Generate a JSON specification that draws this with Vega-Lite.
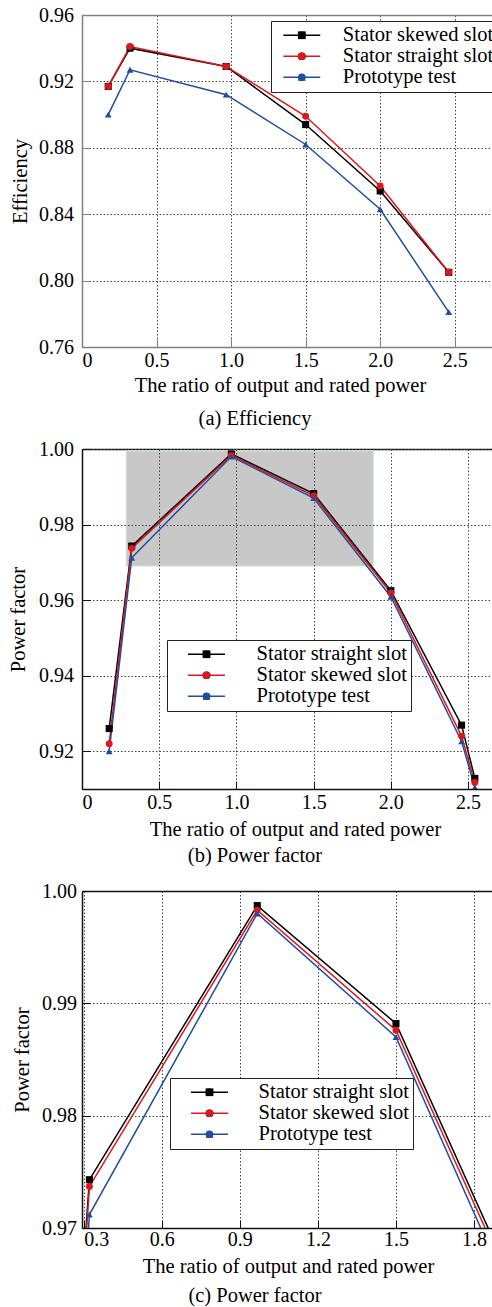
{
  "$schema": "https://vega.github.io/schema/vega-lite/v6.json",
  "padding": {"left": 8, "top": 5, "right": 0, "bottom": 0},
  "config": {
    "font": "Liberation Serif",
    "view": {"stroke": null},
    "axis": {
      "labelFont": "Liberation Serif", "titleFont": "Liberation Serif",
      "labelFontSize": 20, "titleFontSize": 20.5, "titleFontWeight": "normal",
      "labelColor": "#000", "titleColor": "#000",
      "gridDash": [1.5, 2], "gridColor": "#444", "gridWidth": 1,
      "tickSize": -8, "domainWidth": 1.5
    },
    "legend": {
      "labelFont": "Liberation Serif", "labelFontSize": 20.5, "labelColor": "#000",
      "padding": 4, "rowPadding": -2, "orient": "none", "title": null
    },
    "title": {"font": "Liberation Serif", "fontSize": 20.5, "fontWeight": "normal", "color": "#000"}
  },
  "datasets": {
    "eff": [
      {"series": "Stator skewed slot", "x": 0.176, "y": 0.917},
      {"series": "Stator skewed slot", "x": 0.322, "y": 0.940},
      {"series": "Stator skewed slot", "x": 0.967, "y": 0.929},
      {"series": "Stator skewed slot", "x": 1.5, "y": 0.894},
      {"series": "Stator skewed slot", "x": 2.0, "y": 0.854},
      {"series": "Stator skewed slot", "x": 2.46, "y": 0.805},
      {"series": "Stator straight slot", "x": 0.176, "y": 0.917},
      {"series": "Stator straight slot", "x": 0.322, "y": 0.941},
      {"series": "Stator straight slot", "x": 0.967, "y": 0.929},
      {"series": "Stator straight slot", "x": 1.5, "y": 0.899},
      {"series": "Stator straight slot", "x": 2.0, "y": 0.857},
      {"series": "Stator straight slot", "x": 2.46, "y": 0.805},
      {"series": "Prototype test", "x": 0.176, "y": 0.900},
      {"series": "Prototype test", "x": 0.322, "y": 0.927},
      {"series": "Prototype test", "x": 0.967, "y": 0.912},
      {"series": "Prototype test", "x": 1.5, "y": 0.882},
      {"series": "Prototype test", "x": 2.0, "y": 0.843},
      {"series": "Prototype test", "x": 2.46, "y": 0.781}
    ],
    "pf": [
      {"series": "Stator straight slot", "x": 0.176, "y": 0.926},
      {"series": "Stator straight slot", "x": 0.322, "y": 0.9743},
      {"series": "Stator straight slot", "x": 0.967, "y": 0.9987},
      {"series": "Stator straight slot", "x": 1.5, "y": 0.9882},
      {"series": "Stator straight slot", "x": 2.0, "y": 0.9625},
      {"series": "Stator straight slot", "x": 2.458, "y": 0.9269},
      {"series": "Stator straight slot", "x": 2.544, "y": 0.9128},
      {"series": "Stator skewed slot", "x": 0.176, "y": 0.922},
      {"series": "Stator skewed slot", "x": 0.322, "y": 0.9737},
      {"series": "Stator skewed slot", "x": 0.967, "y": 0.9983},
      {"series": "Stator skewed slot", "x": 1.5, "y": 0.9876},
      {"series": "Stator skewed slot", "x": 2.0, "y": 0.9619},
      {"series": "Stator skewed slot", "x": 2.458, "y": 0.924},
      {"series": "Stator skewed slot", "x": 2.544, "y": 0.9117},
      {"series": "Prototype test", "x": 0.176, "y": 0.920},
      {"series": "Prototype test", "x": 0.322, "y": 0.9712},
      {"series": "Prototype test", "x": 0.967, "y": 0.998},
      {"series": "Prototype test", "x": 1.5, "y": 0.9870},
      {"series": "Prototype test", "x": 2.0, "y": 0.9609},
      {"series": "Prototype test", "x": 2.458, "y": 0.9226},
      {"series": "Prototype test", "x": 2.544, "y": 0.9104}
    ],
    "zoombox": [
      {"x1": 0.286, "x2": 1.886, "y1": 0.969, "y2": 0.9995}
    ]
  },
  "spacing": 102,
  "bounds": "flush",
  "resolve": {
    "scale": {"stroke": "independent", "fill": "independent", "shape": "independent", "size": "independent"},
    "legend": {"stroke": "independent", "fill": "independent", "shape": "independent", "size": "independent"}
  },
  "vconcat": [
    {
      "width": 410, "height": 332,
      "title": {"text": "(a) Efficiency", "orient": "bottom", "anchor": "middle", "frame": "group", "dx": -32, "offset": 13},
      "data": {"name": "eff"},
      "resolve": {"axis": {"x": "independent"}},
      "layer": [
        {
          "mark": {"type": "line", "strokeWidth": 1.5},
          "encoding": {
            "x": {"field": "x", "type": "quantitative", "scale": {"domain": [0, 2.75], "nice": false, "zero": false},
              "axis": {"title": "The ratio of output and rated power", "titleX": 198, "values": [0, 0.5, 1, 1.5, 2, 2.5],
                "labelExpr": "datum.value == 0 ? '0' : format(datum.value, '.1f')", "grid": true,
                "labelPadding": 11, "titlePadding": 5,
                "domainColor": "#808080", "tickColor": "#808080"}},
            "y": {"field": "y", "type": "quantitative", "scale": {"domain": [0.76, 0.96], "nice": false, "zero": false},
              "axis": {"title": "Efficiency", "values": [0.76, 0.8, 0.84, 0.88, 0.92, 0.96], "format": ".2f", "grid": true,
                "domainColor": "#808080", "tickColor": "#808080", "labelPadding": 16.5, "titlePadding": 8}},
            "stroke": {"field": "series", "type": "nominal",
              "scale": {"domain": ["Stator skewed slot", "Stator straight slot", "Prototype test"], "range": ["#000000", "#e0161e", "#1f4ea0"]},
              "legend": {"legendX": 189, "legendY": 6, "symbolOffset": 16.55, "labelOffset": 30.8, "zindex": 1,
                "symbolType": "M-2.05,0L2.05,0", "symbolSize": 324, "symbolStrokeWidth": 1.5,
                "strokeColor": "#222", "fillColor": "#ffffff"}}
          }
        },
        {
          "mark": {"type": "point", "filled": true, "opacity": 1},
          "encoding": {
            "x": {"field": "x", "type": "quantitative",
              "axis": {"orient": "top", "labels": false, "ticks": false, "grid": false, "title": null, "domainColor": "#808080"}},
            "y": {"field": "y", "type": "quantitative",
              "axis": {"title": "Efficiency", "values": [0.76, 0.8, 0.84, 0.88, 0.92, 0.96], "format": ".2f", "grid": true,
                "domainColor": "#808080", "tickColor": "#808080", "labelPadding": 16.5, "titlePadding": 8}},
            "fill": {"field": "series", "type": "nominal",
              "sort": ["Stator skewed slot", "Stator straight slot", "Prototype test"],
              "scale": {"range": ["#000000", "#e0161e", "#1f4ea0"]},
              "legend": {"legendX": 189, "legendY": 6, "symbolOffset": 16.55, "labelOffset": 30.8, "zindex": 2,
                "symbolSize": 60, "labelExpr": "''", "labelOpacity": 0, "strokeColor": "transparent", "fillColor": "transparent"}},
            "shape": {"field": "series", "type": "nominal",
              "sort": ["Stator skewed slot", "Stator straight slot", "Prototype test"],
              "scale": {"range": ["square", "circle", "triangle-up"]},
              "legend": {"legendX": 189, "legendY": 6, "symbolOffset": 16.55, "labelOffset": 30.8, "zindex": 2,
                "symbolSize": 60, "labelExpr": "''", "labelOpacity": 0, "strokeColor": "transparent", "fillColor": "transparent"}},
            "size": {"field": "series", "type": "ordinal",
              "sort": ["Stator skewed slot", "Stator straight slot", "Prototype test"],
              "scale": {"range": [50, 46, 80]},
              "legend": null}
          }
        }
      ]
    },
    {
      "width": 410, "height": 340,
      "title": {"text": "(b) Power factor", "orient": "bottom", "anchor": "middle", "frame": "group", "dx": -32, "offset": 6},
      "resolve": {"axis": {"x": "independent"}},
      "layer": [
        {
          "data": {"name": "zoombox"},
          "mark": {"type": "rect", "fill": "#c8c8c8", "stroke": "#d2e6d2", "strokeWidth": 1},
          "encoding": {
            "x": {"field": "x1", "type": "quantitative", "scale": {"domain": [0, 2.655], "nice": false, "zero": false}, "axis": null},
            "x2": {"field": "x2"},
            "y": {"field": "y1", "type": "quantitative", "scale": {"domain": [0.91, 1.0], "nice": false, "zero": false},
              "axis": {"title": "Power factor", "values": [0.92, 0.94, 0.96, 0.98, 1.0], "format": ".2f", "grid": true, "zindex": 1,
                "domainColor": "#111", "tickColor": "#111", "labelPadding": 16.5, "titlePadding": 10}},
            "y2": {"field": "y2"}
          }
        },
        {
          "data": {"name": "pf"},
          "mark": {"type": "line", "strokeWidth": 1.5, "clip": true},
          "encoding": {
            "x": {"field": "x", "type": "quantitative",
              "axis": {"title": "The ratio of output and rated power", "titleX": 213, "values": [0, 0.5, 1, 1.5, 2, 2.5],
                "labelExpr": "datum.value == 0 ? '0' : format(datum.value, '.1f')", "grid": true, "zindex": 1,
                "labelPadding": 11, "titlePadding": 7,
                "domainColor": "#111", "tickColor": "#111"}},
            "y": {"field": "y", "type": "quantitative",
              "axis": {"title": "Power factor", "values": [0.92, 0.94, 0.96, 0.98, 1.0], "format": ".2f", "grid": true, "zindex": 1,
                "domainColor": "#111", "tickColor": "#111", "labelPadding": 16.5, "titlePadding": 10}},
            "stroke": {"field": "series", "type": "nominal",
              "scale": {"domain": ["Stator straight slot", "Stator skewed slot", "Prototype test"], "range": ["#000000", "#e0161e", "#1f4ea0"]},
              "legend": {"legendX": 85, "legendY": 191, "symbolOffset": 25.25, "labelOffset": 39.8, "zindex": 1,
                "symbolType": "M-2.05,0L2.05,0", "symbolSize": 324, "symbolStrokeWidth": 1.5,
                "strokeColor": "#222", "fillColor": "#ffffff"}}
          }
        },
        {
          "data": {"name": "pf"},
          "mark": {"type": "point", "filled": true, "opacity": 1, "clip": true},
          "encoding": {
            "x": {"field": "x", "type": "quantitative",
              "axis": {"orient": "top", "labels": false, "ticks": false, "grid": false, "title": null, "domainColor": "#111"}},
            "y": {"field": "y", "type": "quantitative",
              "axis": {"title": "Power factor", "values": [0.92, 0.94, 0.96, 0.98, 1.0], "format": ".2f", "grid": true, "zindex": 1,
                "domainColor": "#111", "tickColor": "#111", "labelPadding": 16.5, "titlePadding": 10}},
            "fill": {"field": "series", "type": "nominal",
              "sort": ["Stator straight slot", "Stator skewed slot", "Prototype test"],
              "scale": {"range": ["#000000", "#e0161e", "#1f4ea0"]},
              "legend": {"legendX": 85, "legendY": 191, "symbolOffset": 25.25, "labelOffset": 39.8, "zindex": 2,
                "symbolSize": 60, "labelExpr": "''", "labelOpacity": 0, "strokeColor": "transparent", "fillColor": "transparent"}},
            "shape": {"field": "series", "type": "nominal",
              "sort": ["Stator straight slot", "Stator skewed slot", "Prototype test"],
              "scale": {"range": ["square", "circle", "triangle-up"]},
              "legend": {"legendX": 85, "legendY": 191, "symbolOffset": 25.25, "labelOffset": 39.8, "zindex": 2,
                "symbolSize": 60, "labelExpr": "''", "labelOpacity": 0, "strokeColor": "transparent", "fillColor": "transparent"}},
            "size": {"field": "series", "type": "ordinal",
              "sort": ["Stator straight slot", "Stator skewed slot", "Prototype test"],
              "scale": {"range": [50, 46, 80]},
              "legend": null}
          }
        }
      ]
    },
    {
      "width": 410, "height": 337,
      "title": {"text": "(c) Power factor", "orient": "bottom", "anchor": "middle", "frame": "group", "dx": -32, "offset": 9},
      "data": {"name": "pf"},
      "resolve": {"axis": {"x": "independent"}},
      "layer": [
        {
          "mark": {"type": "line", "strokeWidth": 1.5, "clip": true},
          "encoding": {
            "x": {"field": "x", "type": "quantitative", "scale": {"domain": [0.2935, 1.869], "nice": false, "zero": false},
              "axis": {"title": "The ratio of output and rated power", "titleX": 206, "values": [0.3, 0.6, 0.9, 1.2, 1.5, 1.8],
                "format": ".1f", "grid": true, "labelPadding": 9, "titlePadding": 7,
                "labelAlign": {"condition": {"test": "datum.value < 0.35", "value": "left"}, "value": "center"},
                "domainColor": "#111", "tickColor": "#111"}},
            "y": {"field": "y", "type": "quantitative", "scale": {"domain": [0.97, 1.0], "nice": false, "zero": false},
              "axis": {"title": "Power factor", "values": [0.97, 0.98, 0.99, 1.0], "format": ".2f", "grid": true,
                "domainColor": "#111", "tickColor": "#111", "labelPadding": 13.5, "titlePadding": 9}},
            "stroke": {"field": "series", "type": "nominal",
              "scale": {"domain": ["Stator straight slot", "Stator skewed slot", "Prototype test"], "range": ["#000000", "#e0161e", "#1f4ea0"]},
              "legend": {"legendX": 88, "legendY": 187, "symbolOffset": 25.25, "labelOffset": 38.8, "zindex": 1,
                "symbolType": "M-2.05,0L2.05,0", "symbolSize": 324, "symbolStrokeWidth": 1.5,
                "strokeColor": "#222", "fillColor": "#ffffff"}}
          }
        },
        {
          "mark": {"type": "point", "filled": true, "opacity": 1, "clip": true},
          "encoding": {
            "x": {"field": "x", "type": "quantitative",
              "axis": {"orient": "top", "labels": false, "ticks": false, "grid": false, "title": null, "domainColor": "#111"}},
            "y": {"field": "y", "type": "quantitative",
              "axis": {"title": "Power factor", "values": [0.97, 0.98, 0.99, 1.0], "format": ".2f", "grid": true,
                "domainColor": "#111", "tickColor": "#111", "labelPadding": 13.5, "titlePadding": 9}},
            "fill": {"field": "series", "type": "nominal",
              "sort": ["Stator straight slot", "Stator skewed slot", "Prototype test"],
              "scale": {"range": ["#000000", "#e0161e", "#1f4ea0"]},
              "legend": {"legendX": 88, "legendY": 187, "symbolOffset": 25.25, "labelOffset": 38.8, "zindex": 2,
                "symbolSize": 60, "labelExpr": "''", "labelOpacity": 0, "strokeColor": "transparent", "fillColor": "transparent"}},
            "shape": {"field": "series", "type": "nominal",
              "sort": ["Stator straight slot", "Stator skewed slot", "Prototype test"],
              "scale": {"range": ["square", "circle", "triangle-up"]},
              "legend": {"legendX": 88, "legendY": 187, "symbolOffset": 25.25, "labelOffset": 38.8, "zindex": 2,
                "symbolSize": 60, "labelExpr": "''", "labelOpacity": 0, "strokeColor": "transparent", "fillColor": "transparent"}},
            "size": {"field": "series", "type": "ordinal",
              "sort": ["Stator straight slot", "Stator skewed slot", "Prototype test"],
              "scale": {"range": [50, 46, 80]},
              "legend": null}
          }
        }
      ]
    }
  ]
}
